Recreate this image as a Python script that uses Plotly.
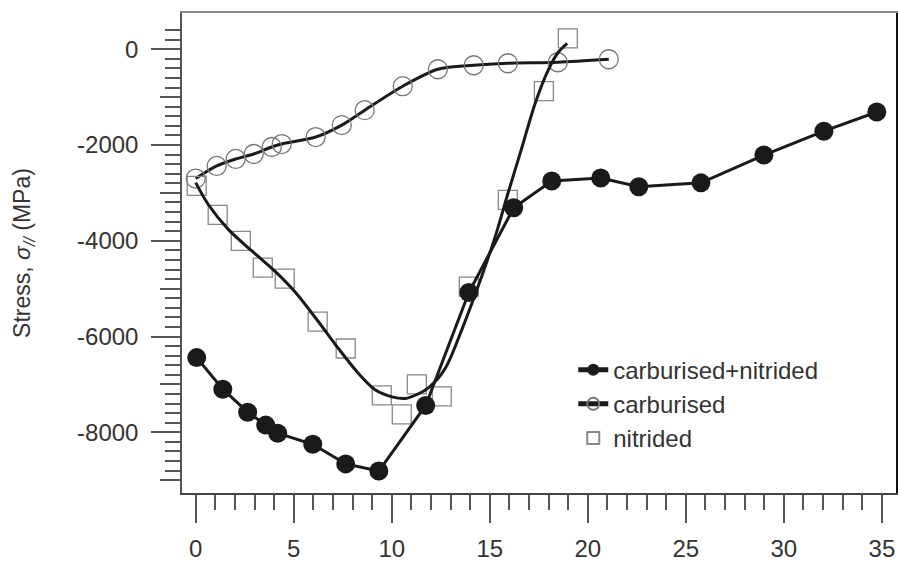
import plotly.graph_objects as go

# ---- data ----
cn_x = [0.05, 1.38, 2.65, 3.57, 4.18, 5.97, 7.65, 9.34, 11.73, 13.93, 16.22, 18.16, 20.66, 22.6, 25.77, 28.98, 32.04, 34.74]
cn_y = [-6440, -7100, -7580, -7850, -8020, -8250, -8660, -8810, -7440, -5080, -3310, -2750, -2690, -2870, -2790, -2210, -1710, -1310]

carb_x = [0.0, 1.07, 2.04, 2.96, 3.88, 4.39, 6.12, 7.45, 8.62, 10.56, 12.35, 14.18, 15.92, 18.47, 21.07]
carb_y = [-2700, -2437, -2291, -2187, -2041, -1979, -1833, -1583, -1271, -771, -417, -333, -292, -271, -208]

nit_x = [0.05, 1.12, 2.3, 3.42, 4.54, 6.22, 7.65, 9.49, 10.51, 11.28, 12.55, 13.93, 15.92, 17.76, 18.98]
nit_y = [-2854, -3458, -4000, -4562, -4791, -5687, -6250, -7229, -7625, -7000, -7250, -4958, -3146, -875, 229]

# smooth fitted curve through the nitrided data
nfit_x = [0.0, 0.64, 1.66, 2.88, 4.05, 5.07, 6.24, 7.26, 8.28, 9.15, 10.02, 10.68, 11.34, 11.9, 12.72, 13.59, 14.41, 15.28, 15.94, 16.65, 17.32, 17.98, 18.49, 18.95]
nfit_y = [-2785, -3242, -3761, -4218, -4640, -5070, -5680, -6240, -6760, -7110, -7260, -7294, -7200, -7060, -6670, -5839, -4946, -3907, -2992, -2036, -1122, -436, -62, 125]

x_major = [0, 5, 10, 15, 20, 25, 30, 35]
x_minor = list(range(0, 36))
y_major = [0, -2000, -4000, -6000, -8000]
y_major_text = ["0", "-2000", "-4000", "-6000", "-8000"]
y_mid = [-1000, -3000, -5000, -7000, -9000]
y_minor = list(range(-9000, 401, 200))

XR = [-0.70, 35.72]
YR = [-9268, 758]

FONT = "Liberation Sans, Arial, sans-serif"
INK = "#1a1a1a"
TXT = "#333333"

fig = go.Figure()

fig.add_trace(go.Scatter(
    x=carb_x, y=carb_y, mode="lines+markers", name="carburised", legendrank=2,
    line=dict(color=INK, width=3, shape="spline", smoothing=0.8),
    marker=dict(symbol="circle-open", size=19, color="#777777", line=dict(width=1.3)),
))
fig.add_trace(go.Scatter(
    x=nit_x, y=nit_y, mode="markers", name="nitrided", legendrank=3,
    marker=dict(symbol="square-open", size=19, color="#888888", line=dict(width=1.3)),
))
fig.add_trace(go.Scatter(
    x=nfit_x, y=nfit_y, mode="lines", showlegend=False,
    line=dict(color=INK, width=3, shape="spline", smoothing=0.9),
))
fig.add_trace(go.Scatter(
    x=cn_x, y=cn_y, mode="lines+markers", name="carburised+nitrided", legendrank=1,
    line=dict(color=INK, width=3),
    marker=dict(symbol="circle", size=19, color=INK),
))
# empty traces so that the frame / extra-tick axes are drawn
fig.add_trace(go.Scatter(x=[None], y=[None], xaxis="x2", yaxis="y3",
                         showlegend=False, hoverinfo="skip"))
fig.add_trace(go.Scatter(x=[None], y=[None], xaxis="x", yaxis="y2",
                         showlegend=False, hoverinfo="skip"))

fig.update_layout(
    width=898, height=564,
    margin=dict(l=182, r=2, t=13, b=69),
    paper_bgcolor="white", plot_bgcolor="white",
    font=dict(family=FONT, size=24, color=TXT),
    showlegend=True,
    legend=dict(x=0.548, y=0.303, xanchor="left", yanchor="top",
                bgcolor="rgba(0,0,0,0)", itemsizing="constant",
                font=dict(size=24, color=TXT), tracegroupgap=0),
    xaxis=dict(range=XR, showgrid=False, zeroline=False,
               showline=True, linecolor="#444444", linewidth=1.5,
               ticks="outside", ticklen=28, tickwidth=1.5, tickcolor="#555555",
               tickmode="array", tickvals=x_major, ticktext=[str(v) for v in x_major],
               tickfont=dict(size=24, color=TXT), ticklabelstandoff=5,
               minor=dict(tickmode="array", tickvals=x_minor, ticks="outside",
                          ticklen=15, tickwidth=1.5, tickcolor="#555555")),
    xaxis2=dict(range=XR, overlaying="x", side="top", showgrid=False, zeroline=False,
                showline=True, linecolor="#888888", linewidth=2,
                ticks="", showticklabels=False),
    yaxis=dict(range=YR, showgrid=False, zeroline=False,
               showline=True, linecolor="#555555", linewidth=1.5,
               ticks="outside", ticklen=29, tickwidth=1.5, tickcolor="#555555",
               tickmode="array", tickvals=y_major, ticktext=y_major_text,
               tickfont=dict(size=24, color=TXT), ticklabelstandoff=8,
               title=dict(text="Stress, <i>σ<sub>//</sub></i> (MPa)",
                          font=dict(size=23, color=TXT), standoff=40),
               minor=dict(tickmode="array", tickvals=y_minor, ticks="outside",
                          ticklen=15, tickwidth=1.5, tickcolor="#555555")),
    yaxis2=dict(range=YR, overlaying="y", side="left", showgrid=False, zeroline=False,
                showline=False, ticks="outside", ticklen=21, tickwidth=1.5,
                tickcolor="#555555", tickmode="array", tickvals=y_mid,
                showticklabels=False),
    yaxis3=dict(range=YR, overlaying="y", side="right", showgrid=False, zeroline=False,
                showline=True, linecolor="#111111", linewidth=4,
                ticks="", showticklabels=False),
)

fig.write_html("out.html")
